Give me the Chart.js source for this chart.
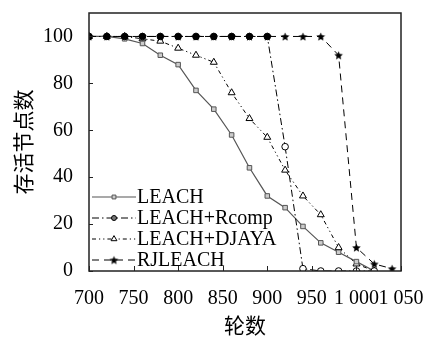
<!DOCTYPE html>
<html>
<head>
<meta charset="utf-8">
<script src="https://cdn.jsdelivr.net/npm/chart.js@4.4.0/dist/chart.umd.min.js"></script>
<style>
  body { margin: 0; background: #fff; }
</style>
</head>
<body>
<canvas id="chart" width="436" height="342"></canvas>
<script>
// rounds sampled every 20
const rounds = [700, 720, 740, 760, 780, 800, 820, 840, 860, 880, 900, 920, 940, 960, 980, 1000, 1020, 1040];
const leach   = [100, 100, 99, 97, 92, 88, 77, 69, 58, 44, 32, 27, 19, 12, 8, 4, 0, null];
const rcomp   = [100, 100, 100, 100, 100, 100, 100, 100, 100, 100, 100, 53, 1, 0, 0, 0, 0, null];
const djaya   = [100, 100, 100, 99, 98, 95, 92, 89, 76, 65, 57, 43, 32, 24, 10, 3, 0, null];
const rjleach = [100, 100, 100, 100, 100, 100, 100, 100, 100, 100, 100, 100, 100, 100, 92, 10, 3, 1];

const seriesNames = ['LEACH', 'LEACH+Rcomp', 'LEACH+DJAYA', 'RJLEACH'];
const xTickValues = [700, 750, 800, 850, 900, 950, 1000, 1050];
const xTickLabels = ['700', '750', '800', '850', '900', '950', '1 000', '1 050'];
const yTickValues = [0, 20, 40, 60, 80, 100];

const serif = "'Liberation Serif', 'DejaVu Serif', serif";
const cjk = "'Noto Sans CJK SC', sans-serif";

// filled five-point star used as a point style
function makeStar(r) {
  const c = document.createElement('canvas');
  const s = Math.ceil(r * 2 + 2);
  c.width = s; c.height = s;
  const g = c.getContext('2d');
  g.translate(s / 2, s / 2 + 0.5);
  g.beginPath();
  for (let i = 0; i < 10; i++) {
    const rad = i % 2 === 0 ? r : r * 0.45;
    const a = -Math.PI / 2 + i * Math.PI / 5;
    g.lineTo(rad * Math.cos(a), rad * Math.sin(a));
  }
  g.closePath();
  g.fillStyle = '#000';
  g.fill();
  return c;
}
const star = makeStar(4.5);

const pts = arr => rounds.map((x, i) => ({ x: x, y: arr[i] }));

const datasets = [
  {
    label: seriesNames[0], data: pts(leach), order: 1,
    borderColor: '#555', borderWidth: 1.2,
    pointStyle: 'rect', pointRadius: 3.2, pointBorderWidth: 1,
    pointBorderColor: '#555', pointBackgroundColor: '#ccc'
  },
  {
    label: seriesNames[1], data: pts(rcomp), order: 0,
    borderColor: '#000', borderWidth: 1, borderDash: [7, 3, 1.5, 3],
    pointStyle: 'circle', pointRadius: 3.3, pointBorderWidth: 1,
    pointBorderColor: '#000',
    pointBackgroundColor: c => (c.raw && c.raw.y === 100 ? '#000' : '#fff')
  },
  {
    label: seriesNames[2], data: pts(djaya), order: 2,
    borderColor: '#000', borderWidth: 1, borderDash: [4, 3, 1.2, 3, 1.2, 3],
    pointStyle: 'triangle', pointRadius: 4, pointBorderWidth: 1,
    pointBorderColor: '#000', pointBackgroundColor: '#fff'
  },
  {
    label: seriesNames[3], data: pts(rjleach), order: 3,
    borderColor: '#000', borderWidth: 1, borderDash: [7, 5],
    pointStyle: star, pointRadius: 4.5
  }
];

// box around the plot, inward tick marks and the in-plot legend
const frame = {
  id: 'frame',
  afterDraw(chart) {
    const ctx = chart.ctx;
    const a = chart.chartArea;
    const xs = chart.scales.x, ys = chart.scales.y;
    ctx.save();
    ctx.strokeStyle = '#222';
    ctx.lineWidth = 1.5;
    ctx.setLineDash([]);
    ctx.strokeRect(a.left, a.top, a.right - a.left, a.bottom - a.top);
    ctx.lineWidth = 1;
    ctx.beginPath();
    xTickValues.forEach(v => {
      const px = Math.round(xs.getPixelForValue(v)) + 0.5;
      ctx.moveTo(px, a.bottom); ctx.lineTo(px, a.bottom - 5);
    });
    yTickValues.forEach(v => {
      const py = Math.round(ys.getPixelForValue(v)) + 0.5;
      ctx.moveTo(a.left, py); ctx.lineTo(a.left + 4, py);
    });
    ctx.stroke();

    // legend rows, bottom-left inside the plot
    const rowGap = 21;
    const x0 = a.left + 3, x1 = a.left + 47;
    chart.data.datasets.forEach((ds, i) => {
      const y = a.bottom - 11 - (datasets.length - 1 - i) * rowGap;
      ctx.setLineDash(ds.borderDash || []);
      ctx.strokeStyle = ds.borderColor;
      ctx.lineWidth = ds.borderWidth;
      ctx.beginPath();
      ctx.moveTo(x0, y); ctx.lineTo(x1, y);
      ctx.stroke();
      ctx.setLineDash([]);
      ctx.lineWidth = 1;
      ctx.strokeStyle = ds.pointBorderColor || '#000';
      ctx.fillStyle = i === 1 ? '#777' : (ds.pointBackgroundColor || '#000');
      Chart.helpers.drawPoint(ctx, {
        pointStyle: ds.pointStyle, rotation: 0,
        radius: i === 1 ? 2.5 : ds.pointRadius * 0.85, borderWidth: 1
      }, (x0 + x1) / 2, y);
      ctx.fillStyle = '#000';
      ctx.font = '20px ' + serif;
      ctx.textAlign = 'left';
      ctx.textBaseline = 'middle';
      ctx.fillText(ds.label, x1 + 1, y + 1);
    });
    ctx.restore();
  }
};

new Chart(document.getElementById('chart'), {
  type: 'line',
  data: { datasets: datasets },
  options: {
    responsive: false,
    animation: false,
    events: [],
    layout: { padding: { left: 0, right: 35, top: 13, bottom: 0 } },
    elements: { line: { tension: 0, fill: false } },
    plugins: { legend: { display: false }, tooltip: { enabled: false } },
    scales: {
      x: {
        type: 'linear', min: 700, max: 1050,
        afterBuildTicks: s => { s.ticks = xTickValues.map(v => ({ value: v })); },
        afterFit: s => { s.height = 71; s.paddingLeft = 0; s.paddingRight = 0; },
        grid: { display: false, drawTicks: false },
        border: { display: false },
        ticks: {
          padding: 16, color: '#000', maxRotation: 0, autoSkip: false,
          font: { family: serif, size: 20 },
          callback: (v, i) => xTickLabels[i]
        },
        title: {
          display: true, text: '轮数', color: '#000',
          font: { family: cjk, size: 21 }, padding: { top: 0, bottom: 4 }
        }
      },
      y: {
        min: 0, max: 110,
        afterBuildTicks: s => { s.ticks = yTickValues.map(v => ({ value: v })); },
        afterFit: s => { s.width = 89; s.paddingTop = 0; s.paddingBottom = 0; },
        grid: { display: false, drawTicks: false },
        border: { display: false },
        ticks: {
          padding: 16, color: '#000',
          font: { family: serif, size: 20 }
        },
        title: {
          display: true, text: '存活节点数', color: '#000',
          font: { family: cjk, size: 21 }, padding: { top: 10, bottom: 0 }
        }
      }
    }
  },
  plugins: [frame]
});
</script>
</body>
</html>
